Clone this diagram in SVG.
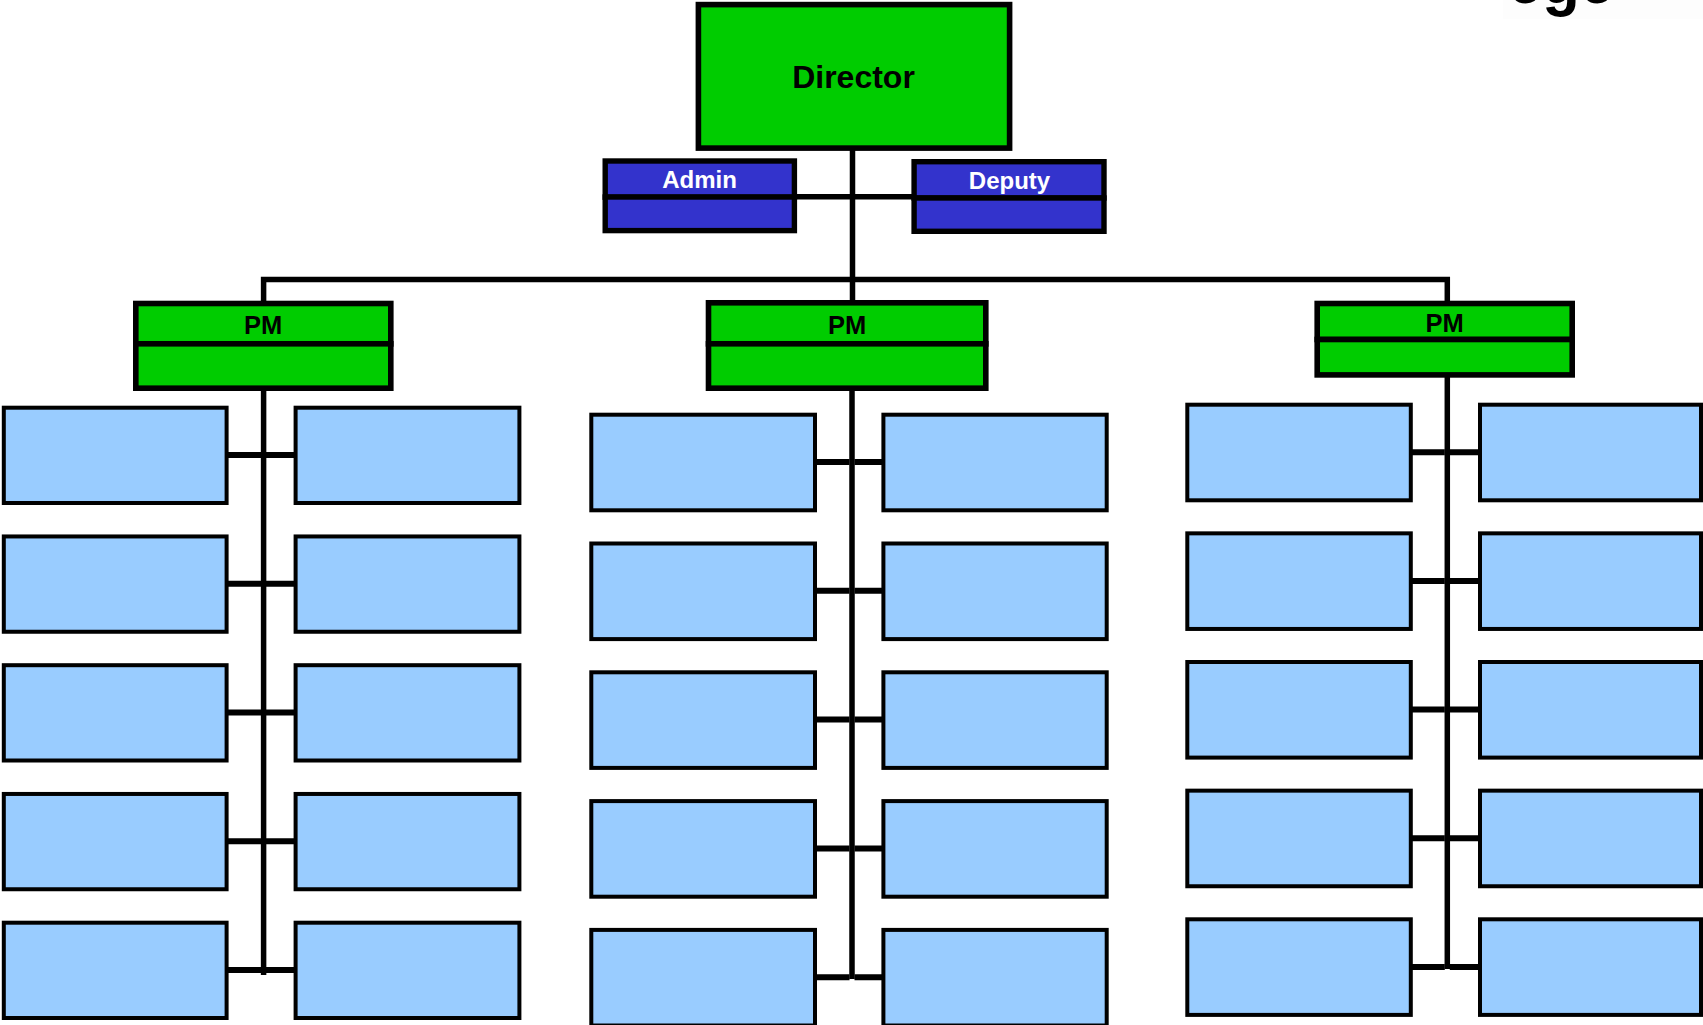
<svg xmlns="http://www.w3.org/2000/svg" width="1703" height="1025" viewBox="0 0 1703 1025">
<style>
  .green{fill:#00CC00;stroke:#000;stroke-width:5.6}
  .blue{fill:#3333CC;stroke:#000;stroke-width:5.4}
  .leaf{fill:#99CCFF;stroke:#000;stroke-width:4}
  .ln{fill:none;stroke:#000;stroke-width:5.5;stroke-linejoin:miter;stroke-linecap:butt}
  .stub{fill:none;stroke:#000;stroke-width:6}
  .t{font-family:"Liberation Sans",Arial,sans-serif;font-weight:bold;text-anchor:middle}
</style>
<rect width="1703" height="1025" fill="#fff"/>
<rect x="1503" y="0" width="200" height="19" fill="#fdfdfd"/>
<text class="t" x="1561" y="3" font-size="66" textLength="106" lengthAdjust="spacingAndGlyphs">ege</text>

<g id="connectors">
  <line class="ln" x1="852.5" y1="150" x2="852.5" y2="301"/>
  <line class="ln" x1="796" y1="196.7" x2="912" y2="196.7"/>
  <path class="ln" d="M263.6 301 V279.5 H1447.3 V301"/>
  <line class="ln" x1="263.6" y1="390" x2="263.6" y2="975"/>
  <line class="ln" x1="852" y1="390" x2="852" y2="979"/>
  <line class="ln" x1="1447.3" y1="377" x2="1447.3" y2="969"/>
  <g id="stubs-left">
    <path class="stub" d="M228 455 H261 M266 455 H294 M228 583.75 H261 M266 583.75 H294 M228 712.5 H261 M266 712.5 H294 M228 841.25 H261 M266 841.25 H294 M228 970 H261 M266 970 H294"/>
  </g>
  <g id="stubs-mid">
    <path class="stub" d="M816 462 H849.5 M854.5 462 H882 M816 590.8 H849.5 M854.5 590.8 H882 M816 719.6 H849.5 M854.5 719.6 H882 M816 848.4 H849.5 M854.5 848.4 H882 M816 977.2 H849.5 M854.5 977.2 H882"/>
  </g>
  <g id="stubs-right">
    <path class="stub" d="M1412 452.3 H1444.8 M1449.8 452.3 H1478.5 M1412 580.95 H1444.8 M1449.8 580.95 H1478.5 M1412 709.6 H1444.8 M1449.8 709.6 H1478.5 M1412 838.25 H1444.8 M1449.8 838.25 H1478.5 M1412 966.9 H1444.8 M1449.8 966.9 H1478.5"/>
  </g>
</g>

<g id="director">
  <rect class="green" x="698.4" y="4.6" width="311.2" height="143.5"/>
  <text class="t" x="853.5" y="88" font-size="32" fill="#000">Director</text>
</g>

<g id="admin">
  <rect class="blue" x="605.2" y="161" width="189.2" height="36.2"/>
  <rect class="blue" x="605.2" y="197" width="189.2" height="33.6"/>
  <text class="t" x="699.5" y="188" font-size="24" fill="#fff">Admin</text>
</g>

<g id="deputy">
  <rect class="blue" x="914.1" y="161.7" width="189.9" height="36.3"/>
  <rect class="blue" x="914.1" y="198" width="189.9" height="33.3"/>
  <text class="t" x="1009.5" y="189" font-size="24" fill="#fff">Deputy</text>
</g>

<g id="pm-left">
  <rect class="green" x="135.8" y="303.5" width="255" height="40.4"/>
  <rect class="green" x="135.8" y="343.8" width="255" height="44.4"/>
  <text class="t" x="263" y="334" font-size="25.5" fill="#000">PM</text>
</g>
<g id="pm-mid">
  <rect class="green" x="708.5" y="302.8" width="277.3" height="41.1"/>
  <rect class="green" x="708.5" y="343.8" width="277.3" height="44.4"/>
  <text class="t" x="847" y="334.3" font-size="25.5" fill="#000">PM</text>
</g>
<g id="pm-right">
  <rect class="green" x="1317.2" y="303.5" width="255" height="36"/>
  <rect class="green" x="1317.2" y="339.5" width="255" height="35.4"/>
  <text class="t" x="1444.5" y="331.7" font-size="25.5" fill="#000">PM</text>
</g>

<g id="leaves-left">
  <rect id="L1a" class="leaf" x="3.8" y="407.7" width="222.8" height="95.3"/>
  <rect id="L2a" class="leaf" x="3.8" y="536.45" width="222.8" height="95.3"/>
  <rect id="L3a" class="leaf" x="3.8" y="665.2" width="222.8" height="95.3"/>
  <rect id="L4a" class="leaf" x="3.8" y="793.95" width="222.8" height="95.3"/>
  <rect id="L5a" class="leaf" x="3.8" y="922.7" width="222.8" height="95.3"/>
  <rect id="L1b" class="leaf" x="295.6" y="407.7" width="223.8" height="95.3"/>
  <rect id="L2b" class="leaf" x="295.6" y="536.45" width="223.8" height="95.3"/>
  <rect id="L3b" class="leaf" x="295.6" y="665.2" width="223.8" height="95.3"/>
  <rect id="L4b" class="leaf" x="295.6" y="793.95" width="223.8" height="95.3"/>
  <rect id="L5b" class="leaf" x="295.6" y="922.7" width="223.8" height="95.3"/>
</g>
<g id="leaves-mid">
  <rect id="M1a" class="leaf" x="591.3" y="414.7" width="223.7" height="95.6"/>
  <rect id="M2a" class="leaf" x="591.3" y="543.5" width="223.7" height="95.6"/>
  <rect id="M3a" class="leaf" x="591.3" y="672.3" width="223.7" height="95.6"/>
  <rect id="M4a" class="leaf" x="591.3" y="801.1" width="223.7" height="95.6"/>
  <rect id="M5a" class="leaf" x="591.3" y="929.9" width="223.7" height="95.6"/>
  <rect id="M1b" class="leaf" x="883.4" y="414.7" width="223.3" height="95.6"/>
  <rect id="M2b" class="leaf" x="883.4" y="543.5" width="223.3" height="95.6"/>
  <rect id="M3b" class="leaf" x="883.4" y="672.3" width="223.3" height="95.6"/>
  <rect id="M4b" class="leaf" x="883.4" y="801.1" width="223.3" height="95.6"/>
  <rect id="M5b" class="leaf" x="883.4" y="929.9" width="223.3" height="95.6"/>
</g>
<g id="leaves-right">
  <rect id="R1a" class="leaf" x="1187.3" y="404.7" width="223.5" height="95.6"/>
  <rect id="R2a" class="leaf" x="1187.3" y="533.35" width="223.5" height="95.6"/>
  <rect id="R3a" class="leaf" x="1187.3" y="662" width="223.5" height="95.6"/>
  <rect id="R4a" class="leaf" x="1187.3" y="790.65" width="223.5" height="95.6"/>
  <rect id="R5a" class="leaf" x="1187.3" y="919.3" width="223.5" height="95.6"/>
  <rect id="R1b" class="leaf" x="1480" y="404.7" width="221" height="95.6"/>
  <rect id="R2b" class="leaf" x="1480" y="533.35" width="221" height="95.6"/>
  <rect id="R3b" class="leaf" x="1480" y="662" width="221" height="95.6"/>
  <rect id="R4b" class="leaf" x="1480" y="790.65" width="221" height="95.6"/>
  <rect id="R5b" class="leaf" x="1480" y="919.3" width="221" height="95.6"/>
</g>
</svg>
